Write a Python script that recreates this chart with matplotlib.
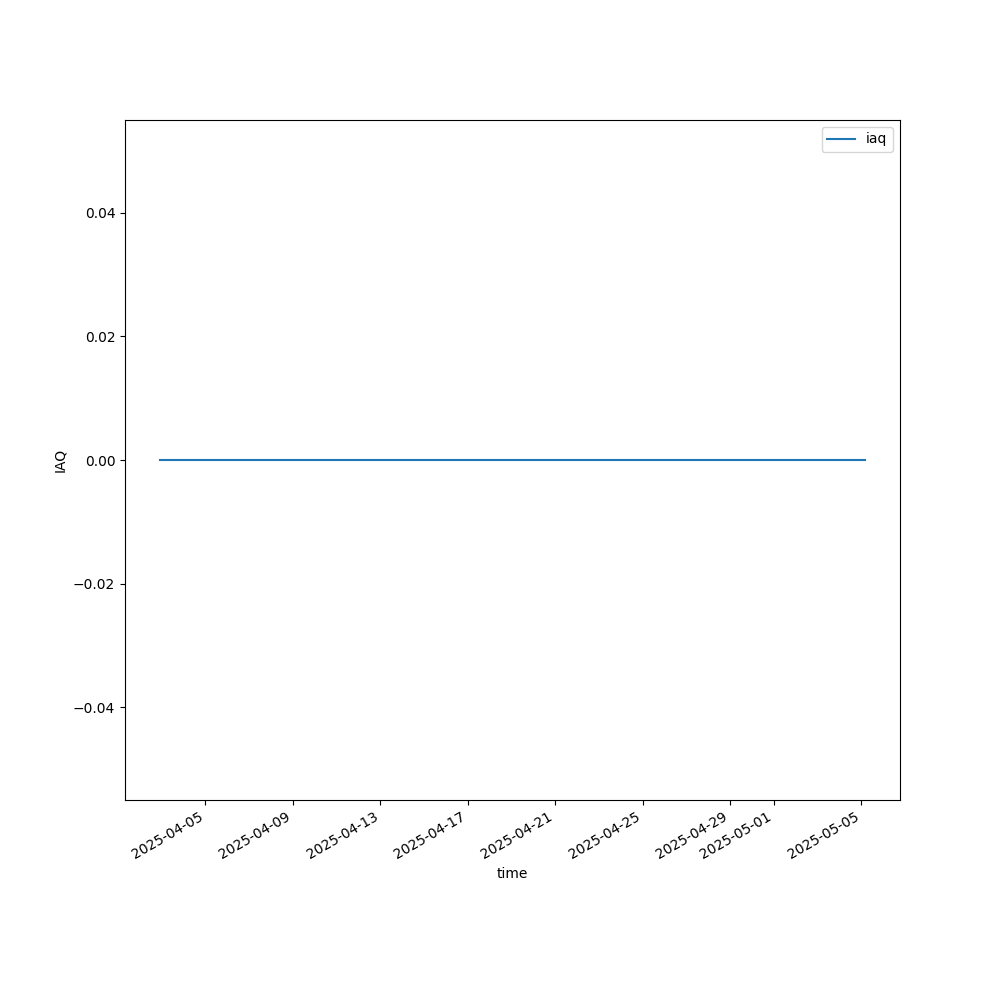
import matplotlib
matplotlib.use('Agg')
import matplotlib.pyplot as plt
import pandas as pd

# sensor readings (IAQ stays at zero the whole period)
times = pd.to_datetime([
    "2025-04-02 22:30",
    "2025-04-09 12:00",
    "2025-04-16 08:00",
    "2025-04-23 15:00",
    "2025-04-30 10:00",
    "2025-05-05 03:50",
])
iaq = [0, 0, 0, 0, 0, 0]

fig, ax = plt.subplots(figsize=(10, 10), dpi=100)
ax.plot(times, iaq, label='iaq')
ax.set_xlabel('time')
ax.set_ylabel('IAQ')
ax.legend(loc='upper right')
fig.autofmt_xdate()

fig.savefig('out.png')
